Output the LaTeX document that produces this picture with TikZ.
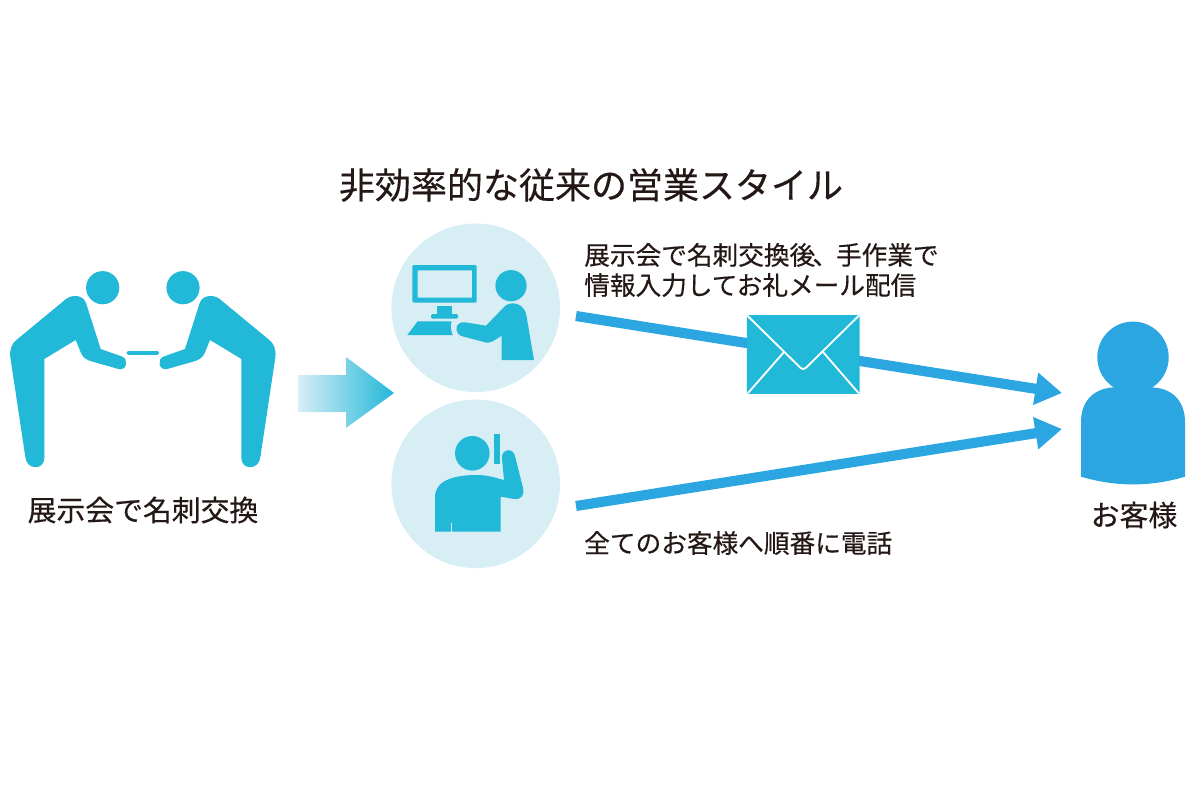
\documentclass[tikz,border=0pt]{standalone}
\usepackage{fontspec}
\setmainfont{Noto Sans CJK JP}[FakeBold=0.4]
\usepackage{xcolor}
\usetikzlibrary{arrows.meta,positioning}

\definecolor{figcyan}{HTML}{22B8D8}
\definecolor{flowblue}{HTML}{2CA6E0}
\definecolor{discpale}{HTML}{D7EEF5}
\definecolor{inkdark}{HTML}{231815}

% one bowing figure, head not included
\newcommand{\bowbody}{%
  \fill[figcyan] (25.3,456.7) -- (10.3,357) .. controls (9.5,349) and (12,343) .. (17,339.5)
    -- (66,299) .. controls (73,294) and (83,295) .. (86,303) -- (100.7,349)
    -- (122,356.5) .. controls (129,359) and (127,371) .. (118.5,369) -- (92,361.5)
    .. controls (87,360) and (83,358) .. (81,353) -- (75.7,340)
    -- (44.3,359) -- (44.3,458) .. controls (44.3,470.5) and (26.3,470.5) .. (25.3,456.7) -- cycle;
  \fill[figcyan, rounded corners=1pt] (126.7,351) rectangle (152.3,354.8);
}

\begin{document}
\begin{tikzpicture}[
    x=0.025cm, y=-0.025cm,
    >={Triangle[length=19pt,width=22pt]},
    title/.style={font=\fontsize{25.6pt}{30pt}\selectfont, text=inkdark, inner sep=0pt},
    biglabel/.style={font=\fontsize{20.5pt}{24pt}\selectfont, text=inkdark, inner sep=0pt},
    smalllabel/.style={font=\fontsize{18.25pt}{21.4pt}\selectfont, text=inkdark, inner sep=0pt, align=left, anchor=west},
    disc/.style={circle, fill=discpale, inner sep=0pt, minimum size=4.215cm},
    headdot/.style={circle, fill=figcyan, inner sep=0pt},
    flow/.style={->, flowblue, line width=7.2pt}
]
\useasboundingbox (0,0) rectangle (1200,800);

% --- Title and labels ---
\node[title] (heading) at (591,185) {非効率的な従来の営業スタイル};
\node[biglabel] (meetlabel) at (143,510) {展示会で名刺交換};
\node[biglabel] (custlabel) at (1134,515) {お客様};
\node[smalllabel] (maillabel) at (584,270) {展示会で名刺交換後\kern-2pt、\kern-1.5pt手作業で\\情報入力してお礼メール配信};
\node[smalllabel] (calllabel) at (584,543) {全てのお客様へ順番に電話};

% --- Two people exchanging cards ---
\bowbody
\begin{scope}[shift={(285.7,0)}, xscale=-1]
  \bowbody
\end{scope}
\node[headdot, minimum size=0.83cm] (headleft) at (102.7,287.7) {};
\node[headdot, minimum size=0.83cm] (headright) at (183,287.7) {};

% --- Shaded arrow ---
\shade[left color=discpale, right color=figcyan] (298,375) -- (346,375) -- (346,357) -- (394,393)
  -- (346,428) -- (346,412) -- (298,412) -- cycle;

% --- Discs ---
\node[disc] (deskdisc) at (475.7,307.8) {};
\node[disc] (phonedisc) at (475.7,483.8) {};

% desk worker
\fill[figcyan, rounded corners=1pt, even odd rule] (412.3,265) rectangle (476.7,302.7)
  [sharp corners] (417.7,270.3) rectangle (472,297.7);
\fill[figcyan] (437.3,305.5) rectangle (451.7,314.5);
\fill[figcyan, rounded corners=1pt] (431,314) rectangle (458,318.7);
\fill[figcyan] (417.7,321.3) -- (451.7,321.3) .. controls (450,326) and (451,331) .. (452.7,335) -- (407.3,335) -- cycle;
\node[headdot, minimum size=0.78cm] (headdesk) at (511,285.7) {};
\fill[figcyan] (501.7,360) -- (534,360) -- (526.5,316) .. controls (525,303) and (510,300) .. (504,307)
  -- (486,325.7) -- (465,322.3) .. controls (454,321) and (454,335) .. (463,336.5) -- (486,342.5)
  .. controls (490,343) and (492,342) .. (501.7,335.7) -- cycle;

% phone caller
\fill[figcyan] (494,433.7) rectangle (499.7,464);
\node[headdot, minimum size=0.865cm] (headphone) at (472.3,453.3) {};
\fill[figcyan] (435,531.7) -- (435,497) .. controls (435,480) and (455,475) .. (477,475)
  .. controls (488,475) and (496,478) .. (504,480) -- (502,458.5) .. controls (501,449) and (513,447) .. (515,456)
  -- (523,488) .. controls (525,496) and (520,500) .. (514,499) -- (500.7,496.7) -- (500.7,531.7) -- cycle;
\draw[discpale, line width=0.5pt] (451.7,523) -- (451.7,531.7);

% --- Customer ---
\node[circle, fill=flowblue, inner sep=0pt, minimum size=1.785cm] (headcust) at (1133,357.3) {};
\fill[flowblue] (1081,476.7) -- (1081,422) .. controls (1081,400) and (1095,387.3) .. (1116,387.3)
  -- (1150,387.3) .. controls (1171,387.3) and (1185,400) .. (1185,422) -- (1185,476.7)
  .. controls (1150,487) and (1116,487) .. (1081,476.7) -- cycle;

% --- Contact arrows ---
\coordinate (deskout) at (576,316);
\coordinate (phoneout) at (576,506);
\coordinate (custupper) at (1062,393);
\coordinate (custlower) at (1062,429);
\draw[flow] (deskout) -- (custupper);
\draw[flow] (phoneout) -- (custlower);

% --- Envelope ---
\node[fill=figcyan, rounded corners=1.5pt, inner sep=0pt, minimum width=2.82cm, minimum height=1.97cm] (envelope) at (803.2,354.5) {};
\draw[white, line width=1.3pt, rounded corners=2.5pt] (envelope.north west) ++(1,1) -- (803.2,370.5) -- (858.5,316);
\draw[white, line width=1.3pt] (784,352) -- (748,393);
\draw[white, line width=1.3pt] (823,352) -- (858.5,393);

\end{tikzpicture}
\end{document}
